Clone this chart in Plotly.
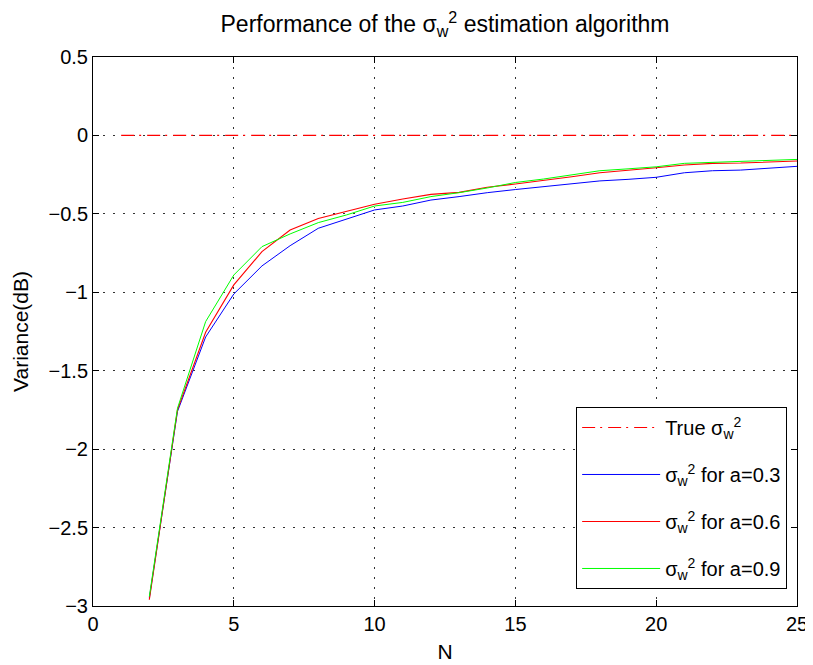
import plotly.graph_objects as go

N = list(range(2, 26))
blue = [-2.95, -1.76, -1.285, -1.011, -0.832, -0.703, -0.592, -0.535, -0.475, -0.45, -0.412, -0.39, -0.365,
        -0.345, -0.328, -0.31, -0.29, -0.28, -0.267, -0.238, -0.225, -0.221, -0.21, -0.197]
red = [-2.96, -1.75, -1.255, -0.953, -0.741, -0.603, -0.529, -0.486, -0.439, -0.405, -0.376, -0.363, -0.33,
       -0.31, -0.288, -0.263, -0.238, -0.22, -0.206, -0.189, -0.178, -0.176, -0.17, -0.163]
green = [-2.94, -1.74, -1.187, -0.89, -0.709, -0.628, -0.556, -0.507, -0.45, -0.427, -0.39, -0.365, -0.335,
         -0.3, -0.278, -0.25, -0.225, -0.213, -0.2, -0.178, -0.171, -0.166, -0.16, -0.153]
true_x = [1, 25]
true_y = [0, 0]

SW = "σ<sub>w</sub><sup>2</sup>"
FONT = "Liberation Sans, Arial, Helvetica, sans-serif"

fig = go.Figure()
fig.add_trace(go.Scatter(x=true_x, y=true_y, mode="lines", name="True " + SW, legendgroup="g0",
                         line=dict(color="rgb(255,0,0)", width=1.2, dash="13px,5px,2px,6px")))
fig.add_trace(go.Scatter(x=N, y=blue, mode="lines", name=SW + " for a=0.3", legendgroup="g1",
                         line=dict(color="rgb(0,0,255)", width=1)))
fig.add_trace(go.Scatter(x=N, y=red, mode="lines", name=SW + " for a=0.6", legendgroup="g2",
                         line=dict(color="rgb(255,0,0)", width=1.1)))
fig.add_trace(go.Scatter(x=N, y=green, mode="lines", name=SW + " for a=0.9", legendgroup="g3",
                         line=dict(color="rgb(0,255,0)", width=1)))

axis_common = dict(showline=True, linecolor="black", linewidth=1, mirror="ticks",
                   ticks="inside", ticklen=6, tickcolor="black", automargin=False,
                   showgrid=True, gridcolor="#333333", griddash="1.5px,8.5px", gridwidth=1,
                   zeroline=False, tickfont=dict(size=20, color="black", family=FONT))

fig.update_layout(
    width=805, height=657,
    margin=dict(l=85, r=16, t=49, b=59),
    paper_bgcolor="white", plot_bgcolor="white",
    font=dict(family=FONT, color="black", size=20),
    title=dict(text="Performance of the " + SW + " estimation algorithm",
               x=0.5, xanchor="center", xref="paper", y=0.975, yanchor="middle",
               font=dict(size=23, family=FONT, color="black")),
    xaxis=dict(range=[0, 25], tickvals=[0, 5, 10, 15, 20, 25],
               title=dict(text="N", font=dict(size=21), standoff=10), **axis_common),
    yaxis=dict(range=[-3, 0.5], tickvals=[0.5, 0, -0.5, -1, -1.5, -2, -2.5, -3],
               title=dict(text="Variance(dB)", font=dict(size=21), standoff=14), **axis_common),
    legend=dict(x=0.986, xanchor="right", y=0.031, yanchor="bottom",
                bordercolor="black", borderwidth=1, bgcolor="white",
                font=dict(size=20, family=FONT), itemwidth=78,
                tracegroupgap=18),
    showlegend=True,
)

fig.write_html("out.html")
